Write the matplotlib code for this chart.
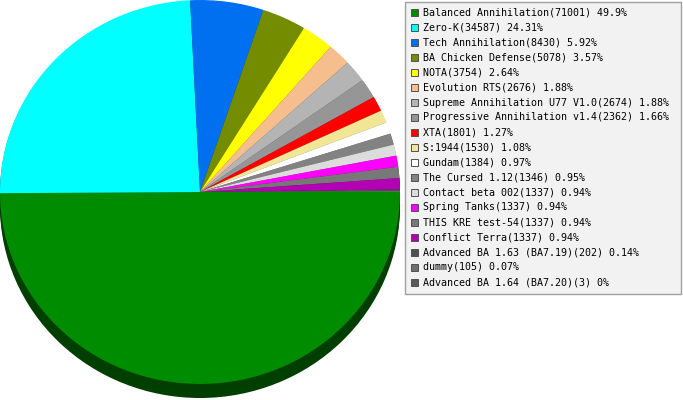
import numpy as np
import matplotlib
matplotlib.use("Agg")
import matplotlib.pyplot as plt
from matplotlib.patches import Rectangle
from matplotlib.colors import to_rgb

# games and how often each was played
games = [
    "Balanced Annihilation", "Zero-K", "Tech Annihilation", "BA Chicken Defense",
    "NOTA", "Evolution RTS", "Supreme Annihilation U77 V1.0",
    "Progressive Annihilation v1.4", "XTA", "S:1944", "Gundam", "The Cursed 1.12",
    "Contact beta 002", "Spring Tanks", "THIS KRE test-54", "Conflict Terra",
    "Advanced BA 1.63 (BA7.19)", "dummy", "Advanced BA 1.64 (BA7.20)",
]
counts = [71001, 34587, 8430, 5078, 3754, 2676, 2674, 2362, 1801, 1530,
          1384, 1346, 1337, 1337, 1337, 1337, 202, 105, 3]
colors = [
    "#008c00", "#00ffff", "#0070f0", "#738c00", "#ffff00", "#f5be8c",
    "#b4b4b4", "#969696", "#ff0000", "#f0e696", "#ffffff", "#828282",
    "#dcdcdc", "#ff00ff", "#787878", "#b400b4", "#505050", "#6e6e6e",
    "#5a5a5a",
]

W, H = 683, 400
fig = plt.figure(figsize=(W / 100, H / 100), dpi=100)

# pie: top face is an ellipse 400 px wide, 384 px high, with a 14 px side
pie_ax = fig.add_axes([0, 0, 400 / W, 1])
depth = 14 / 192
dark = [tuple(c * 0.45 for c in to_rgb(col)) for col in colors]
for off in np.linspace(depth, 0.005, 6):
    pie_ax.pie(counts, colors=dark, startangle=0, counterclock=False,
               center=(0, -off), wedgeprops=dict(linewidth=0))
pie_ax.pie(counts, colors=colors, startangle=0, counterclock=False,
           wedgeprops=dict(linewidth=0))
pie_ax.set_aspect("auto")
pie_ax.set_xlim(-1, 1)
pie_ax.set_ylim(1 - H / 192, 1)
pie_ax.axis("off")

# legend drawn in pixel coordinates
lax = fig.add_axes([0, 0, 1, 1], zorder=5)
lax.set_xlim(0, W)
lax.set_ylim(H, 0)
lax.axis("off")
lax.add_patch(Rectangle((404.5, 1.5), 276, 292, facecolor="#f2f2f2",
                        edgecolor="#a0a0a0", linewidth=1))
total = sum(counts)
for i, (name, n, col) in enumerate(zip(games, counts, colors)):
    y = 12.5 + i * 15
    lax.add_patch(Rectangle((411, y - 4), 7, 7, facecolor=col,
                            edgecolor="#505050", linewidth=0.7))
    pct = round(n / total * 100, 2)
    lax.text(423, y, f"{name}({n}) {pct:g}%", fontsize=7.2,
             family="DejaVu Sans Mono", va="center", ha="left", color="#000000")

fig.savefig("out.png", dpi=100)
